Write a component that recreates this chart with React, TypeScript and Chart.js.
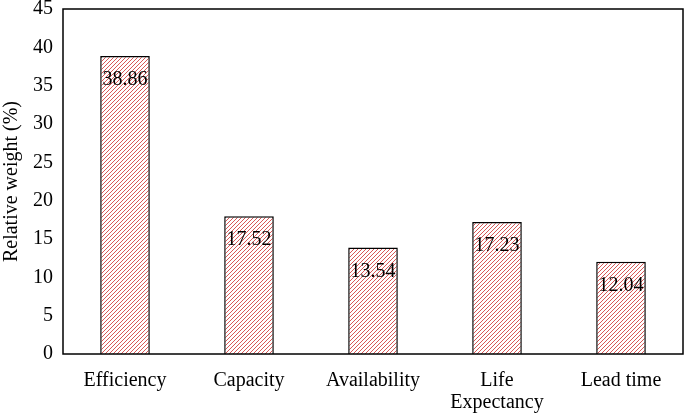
import React, { useEffect, useRef } from "react";
import { Chart, registerables } from "chart.js";

Chart.register(...registerables);

const categories: (string | string[])[] = ["Efficiency", "Capacity", "Availability", ["Life", "Expectancy"], "Lead time"];
const barValues: number[] = [38.86, 17.98, 13.9, 17.23, 12.04];
const valueLabels: string[] = ["38.86", "17.52", "13.54", "17.23", "12.04"];
const yTitle = "Relative weight (%)";

const FONT = "'Liberation Serif', 'Times New Roman', serif";
const SHIFT = 9;

function makeHatch(): CanvasPattern | string {
  const c = document.createElement("canvas");
  c.width = 8;
  c.height = 8;
  const ctx = c.getContext("2d");
  if (!ctx) return "#e06060";
  ctx.fillStyle = "#ffffff";
  ctx.fillRect(0, 0, 8, 8);
  ctx.strokeStyle = "#d85858";
  ctx.lineWidth = 1;
  for (const off of [-8, -4, 0, 4, 8, 12]) {
    ctx.beginPath();
    ctx.moveTo(off, 8);
    ctx.lineTo(off + 8, 0);
    ctx.stroke();
  }
  const p = ctx.createPattern(c, "repeat");
  return p || "#e06060";
}

const frame = {
  id: "frame",
  afterDraw(chart: any) {
    const { ctx, chartArea } = chart;
    ctx.save();
    ctx.strokeStyle = "#000";
    ctx.lineWidth = 1.5;
    ctx.strokeRect(chartArea.left, chartArea.top, chartArea.right - chartArea.left, chartArea.bottom - chartArea.top);
    ctx.restore();
  },
};

const valueLabelPlugin = {
  id: "valueLabels",
  afterDatasetsDraw(chart: any) {
    const { ctx } = chart;
    const meta = chart.getDatasetMeta(0);
    ctx.save();
    ctx.fillStyle = "#000";
    ctx.font = `20px ${FONT}`;
    ctx.textAlign = "center";
    ctx.textBaseline = "middle";
    meta.data.forEach((el: any, i: number) => {
      ctx.fillText(valueLabels[i], el.x, el.y + 24);
    });
    ctx.restore();
  },
};

export default function App() {
  const ref = useRef<HTMLCanvasElement | null>(null);
  useEffect(() => {
    if (!ref.current) return;
    const chart = new Chart(ref.current, {
      type: "bar",
      data: {
        labels: categories,
        datasets: [
          {
            data: barValues,
            backgroundColor: makeHatch() as any,
            borderColor: "#000",
            borderWidth: 1.5,
            barPercentage: 0.4,
            categoryPercentage: 1,
          },
        ],
      },
      options: {
        animation: false,
        responsive: false,
        maintainAspectRatio: false,
        layout: { padding: { top: 0, right: 2, left: 0, bottom: 0 } },
        plugins: { legend: { display: false }, tooltip: { enabled: false } },
        scales: {
          x: {
            grid: { display: false, drawTicks: false },
            border: { display: false },
            ticks: { color: "#000", font: { family: FONT, size: 20, lineHeight: 1.1 }, padding: 16, maxRotation: 0, autoSkip: false },
            afterFit(scale: any) {
              scale.height = 59;
            },
          },
          y: {
            min: 0,
            max: 45,
            grid: { display: false, drawTicks: false },
            border: { display: false },
            ticks: { stepSize: 5, color: "#000", font: { family: FONT, size: 20, lineHeight: 0.8 }, padding: 10 },
            title: { display: true, text: yTitle, color: "#000", font: { family: FONT, size: 20 }, padding: 0 },
            afterFit(scale: any) {
              scale.width = 63;
            },
          },
        },
      },
      plugins: [frame, valueLabelPlugin],
    });
    return () => chart.destroy();
  }, []);
  return (
    <div style={{ position: "fixed", left: 0, top: 0, width: 685, height: 413, background: "#fff", overflow: "hidden" }}>
      <canvas
        ref={ref}
        width={685}
        height={413 + SHIFT}
        style={{ position: "absolute", left: 0, top: -SHIFT, width: 685, height: 413 + SHIFT, display: "block" }}
      />
    </div>
  );
}
